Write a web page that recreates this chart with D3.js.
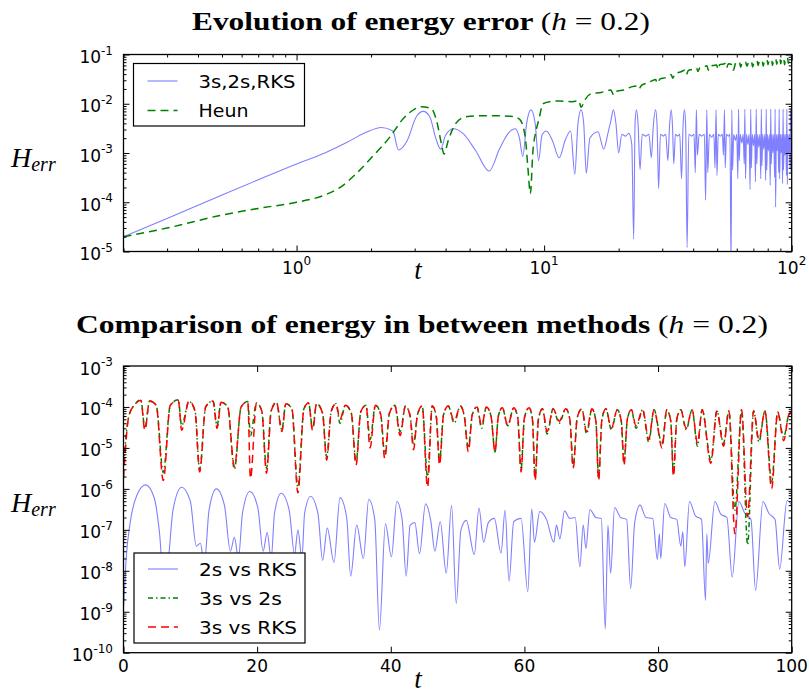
<!DOCTYPE html>
<html>
<head>
<meta charset="utf-8">
<title>energy error</title>
<script src="https://d3js.org/d3.v7.min.js"></script>
<style>
  body { margin: 0; background: #fff; }
  svg text { user-select: none; }
</style>
</head>
<body>
<script>
// ---- data: [t, value] ----
const rksErr = [[0.2,2.0e-5],[0.3,4.7e-5],[0.4,8.7e-5],[0.5,1.4e-4],[0.7,2.85e-4],[1.0,6.0e-4],[1.3,1.0e-3],[1.6,1.65e-3],[1.9,2.6e-3],[2.2,3.3e-3],[2.45,2.8e-3],[2.58,1.15e-3],[2.8,1.8e-3],[3.05,5.5e-3],[3.25,7.0e-3],[3.45,5.5e-3],[3.65,2.0e-3],[3.82,1.2e-3],[4.0,2.3e-3],[4.3,3.1e-3],[4.7,2.5e-3],[5.3,1.1e-3],[6.0,4.3e-4],[6.6,1.2e-3],[7.2,2.6e-3],[7.65,3.1e-3],[7.95,2.0e-3],[8.2,8.5e-4],[8.5,4.0e-3],[8.85,7.5e-3],[9.2,4.0e-3],[9.5,7.0e-4],[9.8,2.3e-3],[10.2,2.8e-3],[10.8,1.8e-3],[11.5,8.0e-4],[12.2,1.9e-3],[12.8,2.8e-3],[13.3,3.7e-4],[13.7,4.0e-3],[14.1,7.5e-3],[14.45,4.0e-3],[14.8,3.9e-4],[15.3,2.0e-3],[16.5,2.7e-3],[17.4,1.2e-3],[18.1,2.5e-3],[18.6,4.5e-3],[19.05,7.5e-3],[19.5,4.0e-3],[20.0,1.0e-3],[20.6,2.4e-3],[21.3,2.2e-3],[22.0,2.5e-3],[22.6,1.5e-3],[23.0,1.8e-5],[23.3,4.0e-3],[23.6,7.5e-3],[23.95,4.0e-3],[24.4,4.6e-4],[24.9,2.4e-3],[25.8,2.2e-3],[26.5,2.4e-3],[27.1,8.0e-4],[27.6,3.5e-3],[28.2,7.5e-3],[28.6,3.5e-3],[29.0,1.9e-4],[29.5,2.4e-3],[30.3,2.2e-3],[31.0,2.4e-3],[31.6,7.0e-4],[32.1,3.5e-3],[32.6,7.5e-3],[33.0,3.5e-3],[33.4,6.0e-4],[33.9,2.4e-3],[34.6,2.2e-3],[35.3,2.4e-3],[35.9,3.0e-4],[36.4,3.5e-3],[36.9,7.5e-3],[37.3,3.5e-3],[37.8,1.2e-5],[38.4,2.4e-3],[39.4,2.2e-3],[40.3,2.4e-3],[40.8,4.0e-4],[41.2,7.5e-3],[41.6,9.0e-4],[42.3,2.4e-3],[43.3,2.2e-3],[44.4,2.4e-3],[44.9,1.1e-4],[45.4,7.5e-3],[45.8,4.0e-4],[46.5,2.4e-3],[47.5,2.1e-3],[48.5,2.4e-3],[49.0,5.0e-4],[49.5,7.5e-3],[49.9,3.5e-4],[50.5,2.4e-3],[51.5,2.2e-3],[52.5,2.4e-3],[53.0,9.0e-4],[53.5,7.5e-3],[53.9,5.0e-4],[54.5,2.4e-3],[55.5,2.2e-3],[56.3,2.4e-3],[56.9,5.0e-6],[57.3,7.5e-3],[57.7,4.5e-4],[58.3,2.4e-3],[59.2,1.8e-3],[60.0,2.4e-3],[60.6,3.0e-4],[61.0,7.8e-3],[61.4,7.0e-4],[62.0,2.4e-3],[62.9,1.6e-3],[63.7,2.4e-3],[64.3,6.0e-4],[64.7,7.8e-3],[65.1,3.0e-4],[65.7,2.4e-3],[66.5,1.5e-3],[67.3,2.4e-3],[67.9,1.8e-4],[68.3,7.8e-3],[68.7,5.0e-4],[69.3,2.4e-3],[70.1,1.4e-3],[70.9,2.4e-3],[71.4,2.6e-4],[71.9,7.8e-3],[72.3,6.0e-4],[72.9,2.4e-3],[73.6,1.3e-3],[74.4,2.4e-3],[75.0,3.0e-4],[75.4,7.8e-3],[75.8,5.5e-4],[76.4,2.4e-3],[77.1,1.2e-3],[77.9,2.4e-3],[78.5,2.8e-4],[78.9,7.8e-3],[79.3,4.5e-4],[79.9,2.4e-3],[80.5,1.1e-3],[81.3,2.4e-3],[81.9,2.2e-4],[82.3,7.8e-3],[82.7,6.0e-4],[83.3,2.4e-3],[83.9,1.0e-3],[84.7,2.4e-3],[85.3,3.2e-4],[85.7,7.8e-3],[86.1,8.0e-5],[86.7,2.4e-3],[87.3,1.1e-3],[88.0,2.4e-3],[88.6,4.0e-4],[89.0,7.8e-3],[89.4,3.0e-4],[90.0,2.4e-3],[90.6,1.0e-3],[91.3,2.4e-3],[91.9,2.4e-4],[92.3,7.8e-3],[92.7,4.5e-4],[93.3,2.4e-3],[93.9,9.0e-4],[94.6,2.4e-3],[95.2,3.5e-4],[95.6,7.8e-3],[96.0,2.3e-4],[96.6,2.4e-3],[97.2,1.0e-3],[97.9,2.4e-3],[98.5,5.0e-4],[98.9,7.8e-3],[99.3,4.0e-4],[100,2.4e-3]];

const heunErr = [[0.2,2.0e-5],[0.3,3.0e-5],[0.5,5.5e-5],[0.7,7.5e-5],[1.0,1.0e-4],[1.3,1.4e-4],[1.5,2.0e-4],[1.75,3.9e-4],[2.0,7.9e-4],[2.38,2.1e-3],[2.7,5.0e-3],[3.0,7.8e-3],[3.2,8.7e-3],[3.5,8.0e-3],[3.7,4.0e-3],[3.85,1.5e-3],[3.94,9.5e-4],[4.1,1.8e-3],[4.4,4.0e-3],[4.8,5.4e-3],[5.5,5.7e-3],[6.5,5.7e-3],[7.5,5.5e-3],[8.0,4.7e-3],[8.4,2.0e-3],[8.6,5.0e-4],[8.8,1.5e-4],[9.0,1.0e-3],[9.3,3.0e-3],[9.5,4.5e-3],[9.9,1.0e-2],[10.5,1.1e-2],[11.5,1.14e-2],[13.0,1.1e-2],[13.8,1.15e-2],[14.1,8.5e-3],[14.6,1.2e-2],[15.5,1.6e-2],[17.0,1.7e-2],[18.6,1.9e-2],[19.1,1.5e-2],[19.7,1.8e-2],[21.0,1.9e-2],[22.5,2.2e-2],[23.6,2.3e-2],[24.1,2.0e-2],[24.8,2.4e-2],[26.5,2.7e-2],[28.2,3.1e-2],[28.7,2.6e-2],[29.4,3.2e-2],[31.0,3.4e-2],[32.6,3.9e-2],[33.1,3.3e-2],[33.8,4.1e-2],[35.5,4.4e-2],[37.0,4.8e-2],[37.5,3.9e-2],[38.3,4.8e-2],[40.0,5.0e-2],[41.3,5.3e-2],[41.8,4.5e-2],[42.6,5.4e-2],[44.0,5.6e-2],[45.5,5.9e-2],[46.0,4.8e-2],[46.8,5.8e-2],[48.5,6.0e-2],[49.8,6.1e-2],[50.3,5.0e-2],[51.2,6.2e-2],[53.0,6.4e-2],[54.0,6.6e-2],[54.5,5.3e-2],[55.5,6.5e-2],[57.5,6.2e-2],[58.1,4.8e-2],[59.5,6.8e-2],[61.5,7.0e-2],[62.2,5.5e-2],[63.0,6.8e-2],[65.0,7.1e-2],[66.0,5.8e-2],[67.0,7.0e-2],[68.8,7.3e-2],[69.5,5.6e-2],[70.5,6.9e-2],[72.5,7.4e-2],[73.1,6.0e-2],[74.0,7.2e-2],[76.0,7.6e-2],[76.7,5.8e-2],[77.6,7.3e-2],[79.5,7.8e-2],[80.2,6.2e-2],[81.0,7.5e-2],[83.0,7.9e-2],[83.6,6.0e-2],[84.5,7.6e-2],[86.3,8.1e-2],[87.0,6.3e-2],[87.8,7.7e-2],[89.6,8.3e-2],[90.3,6.5e-2],[91.1,7.9e-2],[92.9,8.4e-2],[93.6,6.2e-2],[94.4,8.0e-2],[96.2,8.6e-2],[96.9,6.6e-2],[97.7,8.2e-2],[100,8.0e-2]];

const diff2sRks = [[0.0,1.1e-9],[0.4,2.0e-8],[1.0,1.5e-7],[2.0,7.0e-7],[3.3,1.25e-6],[4.6,6.0e-7],[5.4,8.0e-8],[5.9,1.0e-8],[6.6,1.5e-8],[7.4,3.0e-7],[8.7,1.1e-6],[10.0,5.0e-7],[10.9,4.0e-8],[11.5,4.7e-8],[12.1,1.5e-8],[12.8,3.0e-7],[13.9,1.0e-6],[15.1,4.0e-7],[16.0,3.0e-8],[16.6,6.6e-8],[17.2,2.0e-8],[17.8,2.5e-7],[18.9,8.6e-7],[20.1,3.5e-7],[20.9,3.0e-8],[21.5,8.6e-8],[22.1,2.0e-8],[22.6,2.5e-7],[23.6,7.8e-7],[24.8,3.0e-7],[25.6,2.5e-8],[26.1,1.0e-7],[26.7,2.0e-8],[27.1,2.5e-7],[28.0,6.6e-7],[29.1,2.5e-7],[29.8,1.8e-8],[30.5,1.1e-7],[31.5,1.6e-8],[32.4,6.1e-7],[33.4,2.0e-7],[34.0,7.4e-9],[34.9,1.3e-7],[35.9,2.0e-8],[36.7,5.6e-7],[37.6,1.8e-7],[38.3,3.6e-10],[39.2,1.4e-7],[40.1,2.2e-8],[40.9,4.9e-7],[41.7,1.8e-7],[42.3,7.4e-9],[42.9,1.3e-7],[43.6,1.5e-7],[44.3,2.6e-8],[45.2,4.3e-7],[46.0,1.6e-7],[46.6,3.0e-8],[47.4,1.6e-7],[48.3,8.7e-9],[49.1,3.9e-7],[49.8,1.6e-9],[50.5,1.0e-7],[51.3,1.7e-7],[52.5,2.5e-8],[53.2,3.4e-7],[53.9,5.0e-8],[54.6,1.5e-7],[55.5,1.9e-7],[56.5,2.7e-8],[57.1,3.0e-7],[57.7,5.6e-9],[58.4,1.6e-7],[59.5,1.9e-7],[60.5,3.1e-9],[61.1,3.2e-7],[61.5,5.0e-8],[62.3,2.8e-7],[63.3,1.8e-7],[64.4,5.0e-8],[64.8,1.3e-7],[65.3,6.0e-8],[66.0,2.9e-7],[66.8,1.9e-7],[67.6,2.0e-7],[68.3,1.25e-8],[68.8,1.3e-7],[69.2,3.5e-8],[69.8,3.1e-7],[70.7,2.0e-7],[71.5,1.9e-7],[72.1,3.8e-10],[72.5,1.3e-7],[72.9,8.7e-9],[73.5,3.5e-7],[74.4,2.0e-7],[75.3,1.8e-7],[75.9,3.7e-9],[76.5,1.5e-7],[77.3,4.0e-7],[78.2,2.0e-7],[79.2,1.9e-7],[79.9,1.9e-8],[80.2,8.0e-8],[80.4,2.0e-8],[81.0,4.4e-7],[81.9,2.0e-7],[82.8,1.8e-7],[83.4,4.0e-8],[83.7,9.0e-8],[84.0,1.26e-8],[84.7,4.9e-7],[85.6,2.2e-7],[86.5,1.8e-7],[87.1,1.9e-9],[87.3,8.0e-8],[87.5,1.5e-8],[88.5,4.9e-7],[89.4,2.4e-7],[90.3,2.0e-7],[91.1,7.0e-9],[92.1,4.9e-7],[93.0,2.5e-7],[93.9,1.8e-7],[94.6,3.3e-9],[95.7,4.9e-7],[96.6,2.5e-7],[97.5,1.8e-7],[98.2,1.1e-8],[99.3,5.2e-7],[100,4.0e-7]];

const diff3s2s = [[0,4.0e-6],[0.8,6.0e-5],[1.7,1.15e-4],[2.6,1.5e-4],[3.2,3.0e-5],[3.9,1.4e-4],[4.9,1.1e-4],[5.95,2.5e-6],[7.0,1.1e-4],[8.2,1.5e-4],[8.7,3.5e-5],[9.8,1.35e-4],[10.7,8.0e-5],[11.4,3.0e-6],[12.3,1.0e-4],[13.4,1.4e-4],[14.0,3.5e-5],[14.6,1.3e-4],[15.6,1.0e-4],[16.6,3.0e-6],[17.6,1.0e-4],[18.6,1.35e-4],[19.0,2.0e-5],[19.9,1.25e-4],[20.7,8.0e-5],[21.4,3.2e-6],[22.1,8.0e-5],[22.9,1.3e-4],[23.7,2.8e-5],[24.3,1.2e-4],[25.2,9.0e-5],[26.1,1.1e-6],[27.0,9.0e-5],[27.7,1.25e-4],[28.3,3.0e-5],[28.9,1.2e-4],[29.8,7.0e-5],[30.4,6.0e-6],[31.1,8.0e-5],[31.8,1.2e-4],[32.4,4.0e-5],[33.2,1.1e-4],[34.1,7.0e-5],[34.8,4.5e-6],[35.5,7.5e-5],[36.3,1.1e-4],[36.9,1.6e-5],[37.7,1.1e-4],[38.5,6.5e-5],[39.1,7.0e-6],[39.8,7.0e-5],[40.6,1.1e-4],[41.4,2.5e-5],[42.2,1.05e-4],[42.9,6.0e-5],[43.4,1.2e-5],[44.0,6.5e-5],[44.7,1.05e-4],[45.5,2.0e-6],[46.2,1.05e-4],[46.8,6.0e-5],[47.3,5.0e-6],[47.9,6.5e-5],[48.6,1.05e-4],[49.5,4.0e-5],[50.4,1.05e-4],[51.0,6.0e-5],[51.6,1.0e-5],[52.2,6.5e-5],[52.9,1.0e-4],[53.6,3.0e-5],[54.3,1.0e-4],[55.0,6.0e-5],[55.6,8.0e-6],[56.1,6.0e-5],[56.7,9.5e-5],[57.5,3.5e-5],[58.4,9.5e-5],[59.0,5.5e-5],[59.5,3.0e-6],[60.0,5.5e-5],[60.7,9.5e-5],[61.2,5.0e-5],[61.6,1.8e-6],[62.1,5.0e-5],[62.7,9.0e-5],[63.4,2.2e-5],[64.3,9.0e-5],[65.2,4.0e-5],[66.2,9.0e-5],[66.8,5.0e-5],[67.3,3.5e-6],[67.9,5.5e-5],[68.6,9.0e-5],[69.3,2.2e-5],[70.1,9.0e-5],[70.7,4.5e-5],[71.1,1.9e-6],[71.6,5.0e-5],[72.2,9.0e-5],[73.0,2.8e-5],[73.9,8.5e-5],[74.5,4.5e-5],[74.9,4.5e-6],[75.4,5.0e-5],[76.0,8.5e-5],[76.7,3.0e-5],[77.7,8.5e-5],[78.6,1.4e-5],[79.4,8.5e-5],[80.6,1.2e-5],[81.3,8.5e-5],[81.9,4.5e-5],[82.3,2.4e-6],[82.8,5.0e-5],[83.4,8.5e-5],[84.2,2.8e-5],[85.1,8.5e-5],[85.9,1.1e-5],[86.6,8.5e-5],[87.9,5.0e-6],[88.8,8.0e-5],[89.8,1.3e-5],[90.6,8.0e-5],[91.5,3.0e-7],[92.5,8.5e-5],[93.4,4.3e-8],[94.3,8.0e-5],[95.1,1.4e-5],[96.0,8.0e-5],[97.0,1.5e-6],[97.9,7.5e-5],[98.8,1.8e-5],[99.5,6.0e-5],[100,8.0e-5]];

const diff3sRks = [[0,1.8e-6],[0.8,6.0e-5],[1.7,1.15e-4],[2.6,1.45e-4],[3.2,2.7e-5],[3.9,1.4e-4],[4.9,1.1e-4],[5.95,1.6e-6],[7.0,1.1e-4],[8.2,1.45e-4],[8.7,2.7e-5],[9.8,1.4e-4],[10.7,8.0e-5],[11.4,2.6e-6],[12.3,1.0e-4],[13.4,1.4e-4],[14.0,3.0e-5],[14.6,1.3e-4],[15.6,1.0e-4],[16.6,3.5e-6],[17.6,1.0e-4],[18.6,1.35e-4],[19.0,1.8e-6],[19.9,1.25e-4],[20.7,8.0e-5],[21.4,2.4e-6],[22.1,8.0e-5],[22.9,1.3e-4],[23.7,2.5e-5],[24.3,1.2e-4],[25.2,9.0e-5],[26.1,8.0e-7],[27.0,9.0e-5],[27.7,1.25e-4],[28.3,2.7e-5],[28.9,1.2e-4],[29.8,7.0e-5],[30.4,5.0e-6],[31.1,8.0e-5],[31.8,1.2e-4],[32.4,5.0e-5],[33.2,1.1e-4],[34.1,7.0e-5],[34.8,3.8e-6],[35.5,7.5e-5],[36.3,1.1e-4],[36.9,1.0e-5],[37.7,1.1e-4],[38.5,6.5e-5],[39.1,5.5e-6],[39.8,7.0e-5],[40.6,1.1e-4],[41.4,2.0e-5],[42.2,1.05e-4],[42.9,6.0e-5],[43.4,9.0e-6],[44.0,6.5e-5],[44.7,1.05e-4],[45.5,1.1e-6],[46.2,1.05e-4],[46.8,6.0e-5],[47.3,3.8e-6],[47.9,6.5e-5],[48.6,1.05e-4],[49.5,4.5e-5],[50.4,1.05e-4],[51.0,6.0e-5],[51.6,8.0e-6],[52.2,6.5e-5],[52.9,1.0e-4],[53.6,3.5e-5],[54.3,1.0e-4],[55.0,6.0e-5],[55.6,8.0e-6],[56.1,6.0e-5],[56.7,9.5e-5],[57.5,3.5e-5],[58.4,9.5e-5],[59.0,5.5e-5],[59.5,2.6e-6],[60.0,5.5e-5],[60.7,9.5e-5],[61.2,5.0e-5],[61.6,1.6e-6],[62.1,5.0e-5],[62.7,9.0e-5],[63.4,2.5e-5],[64.3,9.0e-5],[65.2,4.5e-5],[66.2,9.0e-5],[66.8,5.0e-5],[67.3,3.2e-6],[67.9,5.5e-5],[68.6,9.0e-5],[69.3,2.5e-5],[70.1,9.0e-5],[70.7,4.5e-5],[71.1,1.6e-6],[71.6,5.0e-5],[72.2,9.0e-5],[73.0,3.0e-5],[73.9,8.5e-5],[74.5,4.5e-5],[74.9,3.8e-6],[75.4,5.0e-5],[76.0,8.5e-5],[76.7,3.5e-5],[77.7,8.5e-5],[78.6,1.6e-5],[79.4,8.5e-5],[80.6,1.0e-5],[81.3,8.5e-5],[81.9,4.5e-5],[82.3,2.0e-6],[82.8,5.0e-5],[83.4,8.5e-5],[84.2,3.0e-5],[85.1,8.5e-5],[85.9,1.3e-5],[86.6,8.5e-5],[87.9,4.2e-6],[88.8,8.0e-5],[89.8,1.1e-5],[90.6,8.0e-5],[91.5,8.0e-8],[92.5,8.5e-5],[93.4,2.1e-7],[94.3,8.0e-5],[95.1,1.6e-5],[96.0,8.0e-5],[97.0,1.0e-6],[97.9,7.5e-5],[98.8,1.5e-5],[99.5,6.0e-5],[100,8.0e-5]];

const topXTicks = [1, 10, 100];
const topXLabels = ["0", "1", "2"];
const topYTicks = [1e-5, 1e-4, 1e-3, 1e-2, 1e-1];
const botXTicks = [0, 20, 40, 60, 80, 100];
const botYTicks = [1e-10, 1e-9, 1e-8, 1e-7, 1e-6, 1e-5, 1e-4, 1e-3];

// ---- layout ----
const W = 809, H = 695;
const svg = d3.select("body").append("svg")
    .attr("width", W).attr("height", H)
    .style("font-family", "'DejaVu Sans', sans-serif");

const pTop = {l: 123.5, r: 791.7, t: 54.5, b: 251.5};
const pBot = {l: 123.5, r: 791.7, t: 366, b: 652.7};

const x1 = d3.scaleLog().domain([0.2, 100]).range([pTop.l, pTop.r]);
const y1 = d3.scaleLog().domain([1e-5, 1e-1]).range([pTop.b, pTop.t]);
const x2 = d3.scaleLinear().domain([0, 100]).range([pBot.l, pBot.r]);
const y2 = d3.scaleLog().domain([1e-10, 1e-3]).range([pBot.b, pBot.t]);

function minors(lo, hi) {
    const out = [];
    for (let e = lo; e < hi; e++)
        for (let k = 2; k <= 9; k++) out.push(k * Math.pow(10, e));
    return out;
}

const defs = svg.append("defs");
[["clipTop", pTop], ["clipBot", pBot]].forEach(([id, p]) => {
    defs.append("clipPath").attr("id", id).append("rect")
        .attr("x", p.l).attr("y", p.t).attr("width", p.r - p.l).attr("height", p.b - p.t);
});

function drawLine(data, x, y, clip, color, width, dash) {
    const line = d3.line().x(d => x(d[0])).y(d => y(d[1])).curve(d3.curveMonotoneX);
    svg.append("path")
        .attr("clip-path", `url(#${clip})`)
        .attr("d", line(data))
        .attr("fill", "none")
        .attr("stroke", color)
        .attr("stroke-width", width)
        .attr("stroke-dasharray", dash || null);
}

function frameTicks(p, x, y, xMaj, xMin, yMaj, yMin) {
    const g = svg.append("g");
    const put = (axis, tr) => {
        const a = g.append("g").attr("transform", tr).call(axis);
        a.select(".domain").remove();
        a.selectAll(".tick line").attr("stroke", "#000").attr("stroke-width", 1);
    };
    [[xMaj, 6], [xMin, 3]].forEach(([vals, s]) => {
        if (!vals.length) return;
        put(d3.axisBottom(x).tickValues(vals).tickSize(-s).tickFormat(""), `translate(0,${p.b})`);
        put(d3.axisTop(x).tickValues(vals).tickSize(-s).tickFormat(""), `translate(0,${p.t})`);
    });
    [[yMaj, 6], [yMin, 3]].forEach(([vals, s]) => {
        put(d3.axisLeft(y).tickValues(vals).tickSize(-s).tickFormat(""), `translate(${p.l},0)`);
        put(d3.axisRight(y).tickValues(vals).tickSize(-s).tickFormat(""), `translate(${p.r},0)`);
    });
    g.append("rect").attr("x", p.l).attr("y", p.t)
        .attr("width", p.r - p.l).attr("height", p.b - p.t)
        .attr("fill", "none").attr("stroke", "#000").attr("stroke-width", 1.3);
}

function powLabel(x, y, exp, anchor) {
    const t = svg.append("text").attr("x", x).attr("y", y)
        .attr("text-anchor", anchor).style("font-size", "17px").attr("fill", "#000");
    t.append("tspan").text("10");
    t.append("tspan").attr("dy", -8.4).style("font-size", "12px").text(exp);
}

function title(parts, cx, base, targetW) {
    const t = svg.append("text").attr("x", 0).attr("y", 0)
        .style("font-family", "'Liberation Serif', serif").style("font-size", "25px");
    parts.forEach(p => t.append("tspan")
        .style("font-weight", p.b ? "bold" : "normal")
        .style("font-style", p.i ? "italic" : "normal")
        .text(p.s));
    const w = t.node().getComputedTextLength();
    t.attr("transform", `translate(${cx - targetW / 2},${base}) scale(${targetW / w},1)`);
}

function yLabel(x, base) {
    const t = svg.append("text").attr("x", x).attr("y", base)
        .style("font-family", "'Liberation Serif', serif").style("font-style", "italic")
        .style("font-size", "28px");
    t.append("tspan").text("H");
    t.append("tspan").attr("dy", 4).style("font-size", "20px").text("err");
}

function xLabel(cx, base) {
    svg.append("text").attr("x", cx).attr("y", base).attr("text-anchor", "middle")
        .style("font-family", "'Liberation Serif', serif").style("font-style", "italic")
        .style("font-size", "27px").text("t");
}

function legend(box, items) {
    svg.append("rect").attr("x", box.x).attr("y", box.y).attr("width", box.w).attr("height", box.h)
        .attr("fill", "#fff").attr("stroke", "#000").attr("stroke-width", 1.2);
    items.forEach(it => {
        svg.append("line").attr("x1", box.x + 14).attr("x2", box.x + 44)
            .attr("y1", it.y).attr("y2", it.y)
            .attr("stroke", it.color).attr("stroke-width", it.w)
            .attr("stroke-dasharray", it.dash || null);
        svg.append("text").attr("x", box.x + 65).attr("y", it.y + 6.5)
            .style("font-size", "18px").attr("textLength", it.len)
            .attr("lengthAdjust", "spacingAndGlyphs").text(it.label);
    });
}

const BLUE = "#7f7fff", GREEN = "#008000", RED = "#ff0000";

// ---- top panel ----
title([{s: "Evolution of energy error ", b: 1}, {s: "("}, {s: "h", i: 1}, {s: " = 0.2)"}], 421, 30, 458);
drawLine(rksErr, x1, y1, "clipTop", BLUE, 1.1);
drawLine(heunErr, x1, y1, "clipTop", GREEN, 1.5, "8,5");
legend({x: 133.5, y: 63.5, w: 171, h: 62.5}, [
    {y: 81, color: BLUE, w: 1.1, label: "3s,2s,RKS", len: 97},
    {y: 110.5, color: GREEN, w: 1.5, dash: "8,5", label: "Heun", len: 50}
]);
frameTicks(pTop, x1, y1,
    topXTicks, minors(-1, 2).filter(v => v > 0.19 && v < 100 && topXTicks.indexOf(v) < 0),
    topYTicks, minors(-5, -1));
topXTicks.forEach((v, i) => powLabel(x1(v), pTop.b + 22, topXLabels[i], "middle"));
topYTicks.forEach(v => powLabel(113, y1(v) + 8.5, String(Math.round(Math.log10(v))), "end"));
yLabel(11, 166.5);
xLabel(418, 279);

// ---- bottom panel ----
title([{s: "Comparison of energy in between methods ", b: 1}, {s: "("}, {s: "h", i: 1}, {s: " = 0.2)"}], 422, 333, 692);
drawLine(diff2sRks, x2, y2, "clipBot", BLUE, 1.1);
drawLine(diff3s2s, x2, y2, "clipBot", GREEN, 1.5, "5,3,1.5,3");
drawLine(diff3sRks, x2, y2, "clipBot", RED, 1.5, "8,5");
legend({x: 134, y: 553, w: 171, h: 90}, [
    {y: 569, color: BLUE, w: 1.1, label: "2s vs RKS", len: 98},
    {y: 598, color: GREEN, w: 1.5, dash: "5,3,1.5,3", label: "3s vs 2s", len: 83},
    {y: 627, color: RED, w: 1.5, dash: "8,5", label: "3s vs RKS", len: 98}
]);
frameTicks(pBot, x2, y2, botXTicks, [], botYTicks, minors(-10, -3));
botXTicks.forEach(v => svg.append("text").attr("x", x2(v)).attr("y", pBot.b + 19)
    .attr("text-anchor", "middle").style("font-size", "17px").text(v));
botYTicks.forEach(v => powLabel(113, y2(v) + 8.5, String(Math.round(Math.log10(v))), "end"));
yLabel(11, 512);
xLabel(418, 688);
</script>
</body>
</html>
